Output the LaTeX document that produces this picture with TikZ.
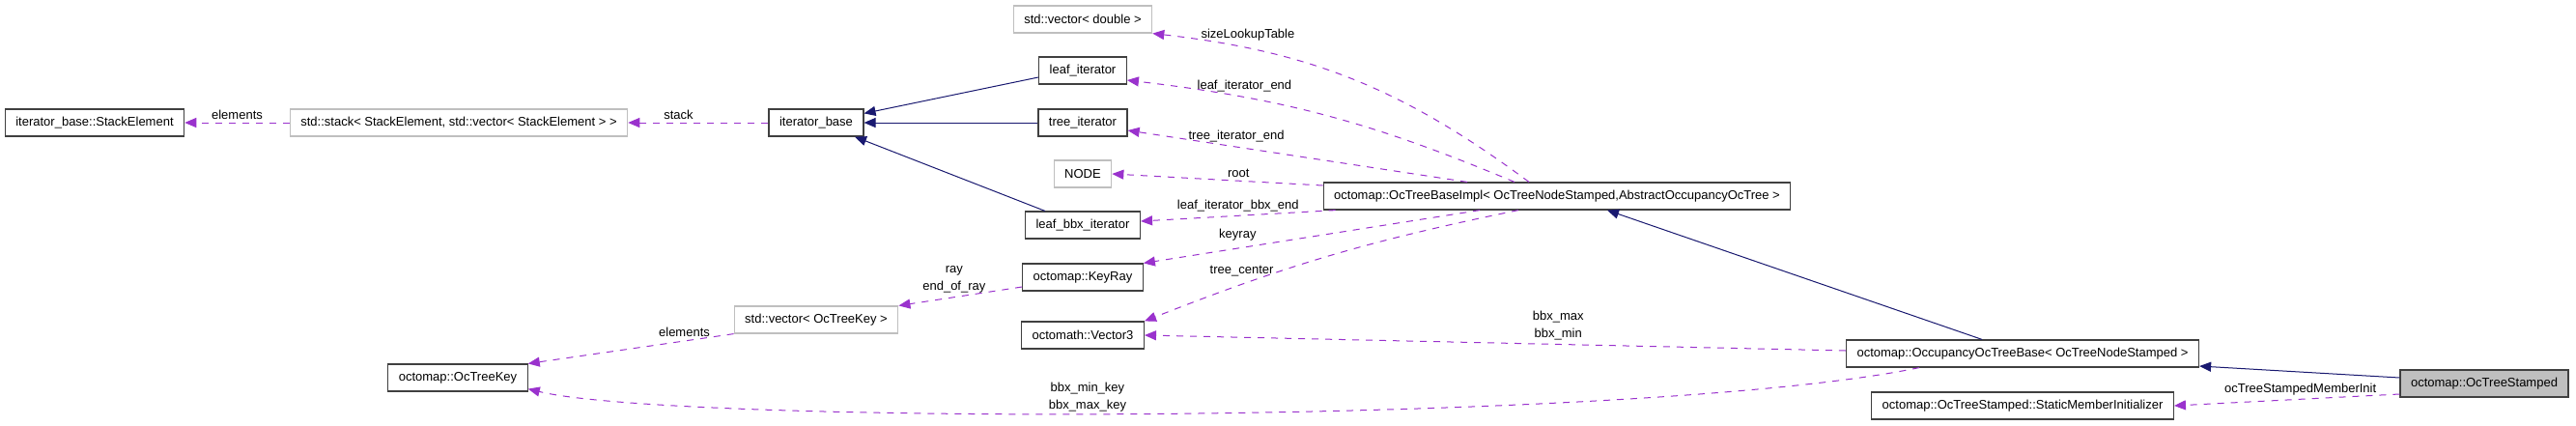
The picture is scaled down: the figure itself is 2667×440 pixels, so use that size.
\documentclass[tikz,border=0pt]{standalone}
\usepackage{fontspec}
\setmainfont{Liberation Sans}
\usetikzlibrary{arrows.meta, positioning}
\definecolor{inhblue}{HTML}{191970}
\definecolor{usepurple}{HTML}{9A32CD}
\definecolor{boxline}{HTML}{404040}
\definecolor{extline}{HTML}{BFBFBF}
\definecolor{curfill}{HTML}{BFBFBF}
\newcommand{\dxfont}{\fontsize{13}{18}\selectfont}
\tikzset{
  % class boxes
  cls/.style={rectangle, draw=boxline, fill=white, line width=1.2pt,
              minimum height=28pt, inner xsep=11pt, font=\dxfont},
  extcls/.style={cls, draw=extline},
  curcls/.style={cls, fill=curfill},
  % inheritance and usage connectors
  inh/.style={draw=inhblue, line width=1pt,
              -{Triangle[length=12pt,width=10pt]}},
  usage/.style={draw=usepurple, line width=1pt, dash pattern=on 7pt off 7pt,
                -{Triangle[length=12pt,width=10pt]}},
  lbl/.style={font=\dxfont, inner sep=1pt, align=center},
}

\begin{document}
\begin{tikzpicture}[x=1pt, y=-1pt]
\path[use as bounding box, fill=white] (0,0) rectangle (2667,440);

% ── Left column ──────────────────────────────────────────────────────────────
\node[cls]    (selem) at (98,  127) {iterator\_base::StackElement};
\node[extcls] (stk)   at (475, 127) {std::stack< StackElement, std::vector< StackElement > >};
\node[cls]    (itb)   at (845, 127) {iterator\_base};
\node[extcls] (vkey)  at (845, 331) {std::vector< OcTreeKey >};
\node[cls]    (key)   at (474, 391) {octomap::OcTreeKey};

% ── Member column (x=1121) ───────────────────────────────────────────────────
\node[extcls] (vdbl)   at (1121, 20)  {std::vector< double >};
\node[cls]    (leafit) at (1121, 73)  {leaf\_iterator};
\node[cls]    (treeit) at (1121, 127) {tree\_iterator};
\node[extcls] (nodet)  at (1121, 180) {NODE};
\node[cls]    (bbxit)  at (1121, 233) {leaf\_bbx\_iterator};
\node[cls]    (keyray) at (1121, 287) {octomap::KeyRay};
\node[cls]    (vec3)   at (1121, 347) {octomath::Vector3};

% ── Right side ───────────────────────────────────────────────────────────────
\node[cls]    (impl)    at (1612, 203) {octomap::OcTreeBaseImpl< OcTreeNodeStamped,AbstractOccupancyOcTree >};
\node[cls]    (occ)     at (2094, 366) {octomap::OccupancyOcTreeBase< OcTreeNodeStamped >};
\node[cls]    (init)    at (2094, 420) {octomap::OcTreeStamped::StaticMemberInitializer};
\node[curcls] (stamped) at (2572, 397) {octomap::OcTreeStamped};

% ── Inheritance ──────────────────────────────────────────────────────────────
\draw[inh] ([yshift=-7pt]leafit.west) -- ([yshift=-5pt]itb.north east);
\draw[inh] (treeit) -- (itb);
\draw[inh] ([xshift=-39pt]bbxit.north) -- ([xshift=40pt]itb.south);
\draw[inh] ([xshift=-42pt]occ.north) -- ([xshift=52pt]impl.south);
\draw[inh] ([yshift=6pt]stamped.west) -- ([yshift=-13pt]occ.east);

% ── Usage ────────────────────────────────────────────────────────────────────
% iterator side
\draw[usage] (stk) -- node[lbl, above=2pt]{elements} (selem);
\draw[usage] (itb) -- node[lbl, above=2pt, pos=0.64]{stack} (stk);

% OcTreeBaseImpl members
\draw[usage] ([xshift=-29pt]impl.north) to[bend right=15]
  node[lbl, pos=0.78, above=6pt]{sizeLookupTable} (vdbl.south east);
\draw[usage] ([xshift=-44pt]impl.north) to[bend right=8]
  node[lbl, pos=0.72, above=4pt]{leaf\_iterator\_end} ([yshift=-10pt]leafit.east);
\draw[usage] ([xshift=-93pt]impl.north) --
  node[lbl, pos=0.68, above=4pt]{tree\_iterator\_end} ([yshift=-8pt]treeit.east);
\draw[usage] ([yshift=11pt]impl.west) --
  node[lbl, pos=0.4, above=2pt]{root} (nodet.east);
\draw[usage] ([xshift=13pt]impl.south west) --
  node[lbl, pos=0.5, above=3pt]{leaf\_iterator\_bbx\_end} ([yshift=4pt]bbxit.east);
\draw[usage] ([xshift=-80pt]impl.south) --
  node[lbl, pos=0.72, above=6pt]{keyray} (keyray.north east);
\draw[usage] ([xshift=-40pt]impl.south) to[bend right=5]
  node[lbl, pos=0.75, above=7pt]{tree\_center} (vec3.north east);

% OccupancyOcTreeBase members
\draw[usage] ([yshift=3pt]occ.west) --
  node[lbl, pos=0.41, above=3pt]{bbx\_max\\bbx\_min} (vec3.east);
\draw[usage] ([xshift=-107pt]occ.south) .. controls (1700,440) and (700,440) ..
  node[lbl, pos=0.55, above=1pt]{bbx\_min\_key\\bbx\_max\_key} ([yshift=3pt]key.south east);

% key containers
\draw[usage] ([yshift=-10pt]keyray.west) --
  node[lbl, pos=0.55, above=3pt]{ray\\end\_of\_ray} (vkey.north east);
\draw[usage] (vkey.south west) --
  node[lbl, pos=0.24, above=3pt]{elements} (key.north east);

% OcTreeStamped
\draw[usage] ([yshift=-11pt]stamped.west) --
  node[lbl, pos=0.44, above=3pt]{ocTreeStampedMemberInit} (init.east);

\end{tikzpicture}
\end{document}
